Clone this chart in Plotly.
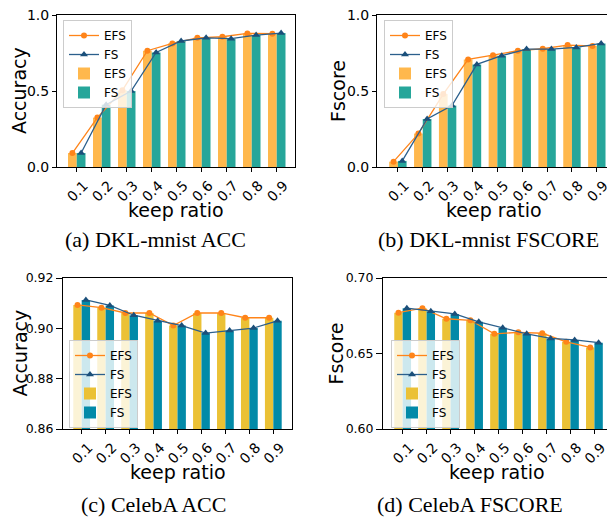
import numpy as np
import plotly.graph_objects as go

keep_ratio = ["0.1", "0.2", "0.3", "0.4", "0.5", "0.6", "0.7", "0.8", "0.9"]

mnist_acc_efs = [0.092, 0.325, 0.505, 0.765, 0.813, 0.850, 0.857, 0.879, 0.877]
mnist_acc_fs = [0.092, 0.410, 0.500, 0.754, 0.829, 0.850, 0.844, 0.868, 0.881]
mnist_f_efs = [0.035, 0.220, 0.480, 0.708, 0.736, 0.765, 0.778, 0.802, 0.796]
mnist_f_fs = [0.040, 0.316, 0.404, 0.675, 0.732, 0.776, 0.776, 0.787, 0.813]
celeba_acc_efs = [0.9093, 0.9082, 0.9061, 0.9061, 0.9011, 0.9061, 0.9061, 0.9042, 0.9042]
celeba_acc_fs = [0.9113, 0.9091, 0.9052, 0.9030, 0.9011, 0.8981, 0.8991, 0.9001, 0.9030]
celeba_f_efs = [0.677, 0.680, 0.673, 0.672, 0.663, 0.664, 0.6634, 0.6577, 0.654]
celeba_f_fs = [0.680, 0.678, 0.6762, 0.671, 0.667, 0.663, 0.660, 0.659, 0.6572]

W, H = 615, 518
OFF = 8  # page body margin


def fx(px):
    return (px - OFF) / W


def fy(py):
    return 1 - (py - OFF) / H


bw = 0.35
pos = np.arange(len(keep_ratio))

panels = [
    dict(efs=mnist_acc_efs, fs=mnist_acc_fs, ylab="Accuracy", cap="(a) DKL-mnist ACC",
         px=(57, 295), py=(15, 167), xr=[-0.79, 8.73], yr=[0, 1.0], yt=[0, 0.5, 1.0], fmt=".1f",
         ytf=14, tl=4, cb=("#FFB84D", "#26A69A"), leg=(63, 20), ytx=19, xty=210, capx=155, capy=239),
    dict(efs=mnist_f_efs, fs=mnist_f_fs, ylab="Fscore", cap="(b) DKL-mnist FSCORE",
         px=(377, 610), py=(15, 167), xr=[-0.84, 8.53], yr=[0, 1.0], yt=[0, 0.5, 1.0], fmt=".1f",
         ytf=14, tl=4, cb=("#FFB84D", "#26A69A"), leg=(384, 20), ytx=338, xty=210, capx=488, capy=239),
    dict(efs=celeba_acc_efs, fs=celeba_acc_fs, ylab="Accuracy", cap="(c) CelebA ACC",
         px=(63, 292), py=(278, 429), xr=[-0.78, 8.78], yr=[0.86, 0.92], yt=[0.86, 0.88, 0.90, 0.92], fmt=".2f",
         ytf=12.5, tl=6, cb=("#EBC135", "#028AA8"), leg=(69, 340), ytx=19, xty=472, capx=153, capy=504),
    dict(efs=celeba_f_efs, fs=celeba_f_fs, ylab="Fscore", cap="(d) CelebA FSCORE",
         px=(383, 610), py=(278, 429), xr=[-0.82, 8.65], yr=[0.60, 0.70], yt=[0.60, 0.65, 0.70], fmt=".2f",
         ytf=12.5, tl=6, cb=("#EBC135", "#028AA8"), leg=(391, 340), ytx=335, xty=472, capx=470, capy=504),
]

fig = go.Figure()
annotations = []
layout = dict(width=W, height=H, margin=dict(l=0, r=0, t=0, b=0),
              paper_bgcolor="white", plot_bgcolor="white", showlegend=True,
              font=dict(family="DejaVu Sans", color="black"))

for i, p in enumerate(panels):
    k = "" if i == 0 else str(i + 1)
    xa, ya = "x" + k, "y" + k
    lg = "legend" + k
    fig.add_trace(go.Bar(x=pos, y=p["efs"], width=bw, offset=-bw, name="EFS",
                         marker=dict(color=p["cb"][0], line=dict(width=0)),
                         xaxis=xa, yaxis=ya, legend=lg, legendrank=3))
    fig.add_trace(go.Bar(x=pos, y=p["fs"], width=bw, offset=0, name="FS",
                         marker=dict(color=p["cb"][1], line=dict(width=0)),
                         xaxis=xa, yaxis=ya, legend=lg, legendrank=4))
    fig.add_trace(go.Scatter(x=pos - bw / 2, y=p["efs"], mode="lines+markers", name="EFS",
                             line=dict(color="#FF8419", width=1.3),
                             marker=dict(symbol="circle", size=6, color="#FF8419"),
                             xaxis=xa, yaxis=ya, legend=lg, legendrank=1))
    fig.add_trace(go.Scatter(x=pos + bw / 2, y=p["fs"], mode="lines+markers", name="FS",
                             line=dict(color="#2B5F8C", width=1.3),
                             marker=dict(symbol="triangle-up", size=7, color="#1B4F7A"),
                             xaxis=xa, yaxis=ya, legend=lg, legendrank=2))
    x0, x1 = p["px"]
    y0, y1 = p["py"]
    layout["xaxis" + k] = dict(
        domain=[fx(x0), fx(x1)], anchor=ya, range=p["xr"], tickmode="array",
        tickvals=list(pos), ticktext=keep_ratio, tickangle=-45, ticks="outside", ticklen=4,
        tickcolor="black", tickfont=dict(size=14, family="DejaVu Sans", color="black"),
        showline=True, linecolor="black", linewidth=1, mirror=True, showgrid=False,
        zeroline=False, automargin=False, ticklabelshift=7, ticklabeloverflow="allow")
    layout["yaxis" + k] = dict(
        domain=[fy(y1), fy(y0)], anchor=xa, range=p["yr"], tickmode="array",
        tickvals=p["yt"], ticktext=[format(v, p["fmt"]) for v in p["yt"]], ticks="outside",
        ticklen=p["tl"], tickcolor="black",
        tickfont=dict(size=p["ytf"], family="DejaVu Sans", color="black"),
        showline=True, linecolor="black", linewidth=1, mirror=True, showgrid=False,
        zeroline=False, automargin=False, ticklabeloverflow="allow")
    layout[lg] = dict(x=fx(p["leg"][0]), y=fy(p["leg"][1]), xanchor="left", yanchor="top",
                      bgcolor="rgba(255,255,255,0.8)", bordercolor="#cccccc", borderwidth=1,
                      font=dict(size=12, family="DejaVu Sans", color="black"),
                      traceorder="normal", itemwidth=30, tracegroupgap=0)
    annotations.append(dict(text=p["ylab"], x=fx(p["ytx"]), y=fy((y0 + y1) / 2),
                            xref="paper", yref="paper", showarrow=False, textangle=-90,
                            xanchor="center", yanchor="middle",
                            font=dict(size=19, family="DejaVu Sans", color="black")))
    annotations.append(dict(text="keep ratio", x=fx((x0 + x1) / 2), y=fy(p["xty"]),
                            xref="paper", yref="paper", showarrow=False,
                            xanchor="center", yanchor="middle",
                            font=dict(size=19, family="DejaVu Sans", color="black")))
    annotations.append(dict(text=p["cap"], x=fx(p["capx"]), y=fy(p["capy"]),
                            xref="paper", yref="paper", showarrow=False,
                            xanchor="center", yanchor="middle",
                            font=dict(size=22, family="Liberation Serif", color="black")))

layout["annotations"] = annotations
fig.update_layout(**layout)
fig.write_html("out.html")
